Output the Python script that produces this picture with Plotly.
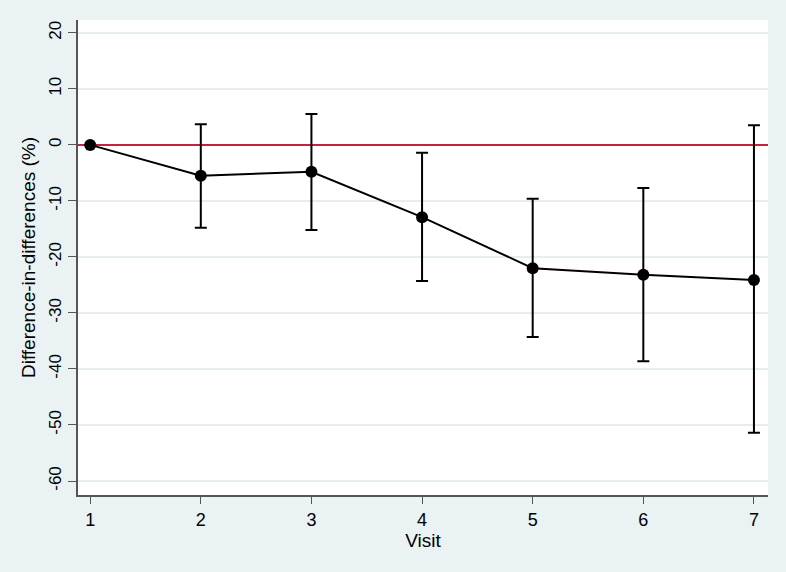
import plotly.graph_objects as go

visits = [1, 2, 3, 4, 5, 6, 7]
estimate = [0.0, -5.5, -4.8, -12.9, -22.0, -23.2, -24.1]
ci_upper = [0.0, 3.7, 5.5, -1.4, -9.6, -7.7, 3.5]
ci_lower = [0.0, -14.8, -15.2, -24.3, -34.3, -38.6, -51.4]
y_ticks = [-60, -50, -40, -30, -20, -10, 0, 10, 20]
y_tick_labels = ["-60", "-50", "-40", "-30", "-20", "-10", "0", "10", "20"]

err_plus = [u - e for u, e in zip(ci_upper, estimate)]
err_minus = [e - l for e, l in zip(estimate, ci_lower)]

fig = go.Figure()
fig.add_trace(go.Scatter(
    x=visits, y=estimate, mode="lines+markers",
    line=dict(color="black", width=2),
    marker=dict(color="black", size=12),
    error_y=dict(type="data", symmetric=False, array=err_plus, arrayminus=err_minus,
                 color="black", thickness=2, width=6),
    showlegend=False,
))

fig.update_layout(
    width=786, height=572,
    paper_bgcolor="#eaf2f3", plot_bgcolor="white",
    margin=dict(l=78, r=18, t=20, b=77),
    font=dict(family="Liberation Sans, Arial, sans-serif", size=16, color="black"),
    xaxis=dict(range=[0.89, 7.127], tickvals=visits, ticks="outside", ticklen=7,
               tickcolor="#555", showgrid=False, showline=True, linecolor="#555",
               linewidth=2, zeroline=False,
               title=dict(text="Visit", standoff=3),
               tickfont=dict(family="Liberation Sans, Arial, sans-serif", size=18, color="black")),
    yaxis=dict(range=[-62.5, 22.3], tickvals=y_ticks, ticktext=y_tick_labels,
               ticks="outside", ticklen=8,
               tickcolor="#555", tickangle=-90, showgrid=True, gridcolor="#e4edf0",
               gridwidth=1.5, showline=True, linecolor="#555", linewidth=2,
               zeroline=True, zerolinecolor="#c8203f", zerolinewidth=2,
               title=dict(text="Difference-in-differences (%)", standoff=6),
               tickfont=dict(family="Liberation Sans, Arial, sans-serif", size=17, color="black")),
)

fig.write_html("out.html", config={"displayModeBar": False},
               post_script="document.body.style.margin='0px';")
